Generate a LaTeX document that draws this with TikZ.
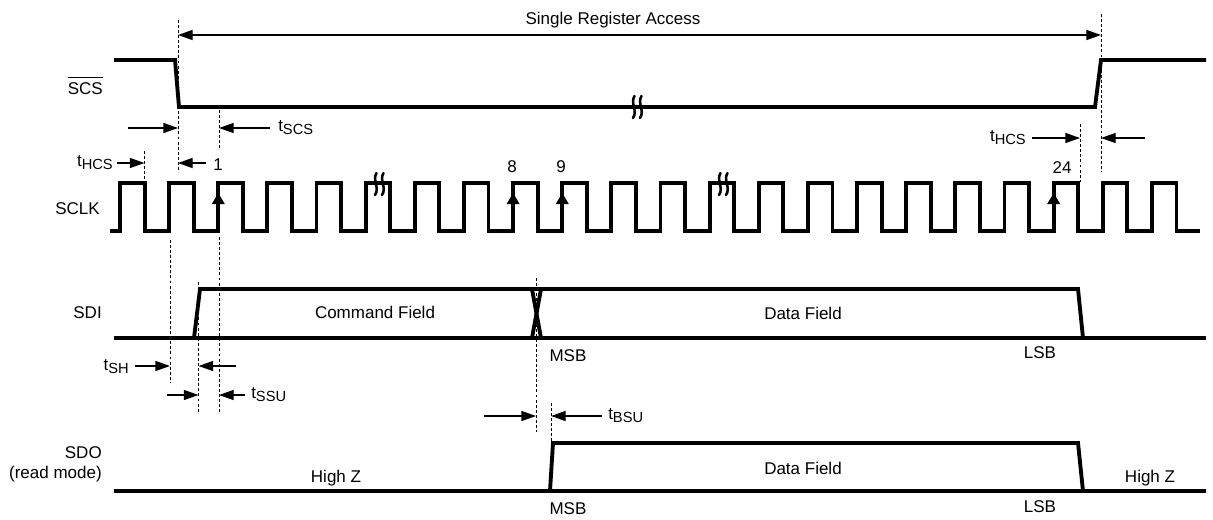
\documentclass[tikz,border=0pt]{standalone}
\usepackage{fontspec}
\setmainfont{Liberation Sans}
\usetikzlibrary{arrows.meta}
\newcommand\tsub[1]{t\raisebox{-2.2pt}{\fontsize{11}{12}\selectfont #1}}
\begin{document}
\begin{tikzpicture}[x=0.75pt,y=-0.75pt,
  wave/.style={line width=2.9pt, line join=miter, line cap=butt},
  dim/.style={line width=1pt, -{Triangle[length=11pt,width=7.5pt]}},
  dimboth/.style={line width=1pt, {Triangle[length=11pt,width=7.5pt]}-{Triangle[length=11pt,width=7.5pt]}},
  guide/.style={line width=0.7pt, dash pattern=on 2.2pt off 1.6pt},
  lbl/.style={font=\fontsize{12.75}{15}\selectfont, inner sep=0pt, text height=9.2pt, text depth=0pt},
  tlbl/.style={font=\fontsize{12.75}{15}\selectfont, inner sep=0pt},
  tick/.style={line width=1.9pt, line cap=round},
  brk/.pic={\draw[tick] (-1.5,-11) .. controls (-6,-4) and (2,4) .. (-3,11);
            \draw[tick] (5.5,-11) .. controls (1,-4) and (9,4) .. (4,11);}]
\useasboundingbox (0,0) rectangle (1213,519);

% ---------- signal names ----------
\node[lbl,anchor=east] (nscs) at (103,88) {SCS};
\draw[line width=0.8pt] ([yshift=3pt]nscs.north west) -- ([yshift=3pt]nscs.north east);
\node[lbl,anchor=east] (nsclk) at (100,208) {SCLK};
\node[lbl,anchor=east] (nsdi) at (102,312) {SDI};
\node[lbl,anchor=east] (nsdo) at (102,452) {SDO};
\node[lbl,anchor=east] (nrm) at (102,472) {(read mode)};

% ---------- SCS waveform ----------
\draw[wave] (114,60) -- (175,60) -- (179,107) -- (1095,107) -- (1101,60) -- (1206,60);
\pic at (636,107) {brk};

% ---------- SCLK waveform ----------
\draw[wave] (110,231) foreach \k in {0,...,21} {
   -- ({120+49.14*\k},231) -- ({120+49.14*\k},183)
   -- ({144.57+49.14*\k},183) -- ({144.57+49.14*\k},231) } -- (1200,231);
\foreach \k in {2,8,9,19}
  \fill ({120+49.14*\k},193) -- ++(-6.5,11) -- ++(13,0) -- cycle;
\pic at (378,184) {brk};
\pic at (722,184) {brk};
\node[lbl] (c1) at (218,164) {1};
\node[lbl] (c8) at (512,166) {8};
\node[lbl] (c9) at (561,166) {9};
\node[lbl] (c24) at (1062,167) {24};

% ---------- SDI waveform ----------
\draw[wave] (114,338) -- (1206,338);
\draw[wave] (194,338) -- (200,289) -- (1078,289) -- (1083,338);
\draw[wave] (532,289) -- (541,338);
\draw[wave] (541,289) -- (532,338);
\node[lbl] (cmd) at (375,312) {Command Field};
\node[lbl] (dat1) at (803,313) {Data Field};
\node[lbl] (msb1) at (568,355) {MSB};
\node[lbl] (lsb1) at (1040,352) {LSB};

% ---------- SDO waveform ----------
\draw[wave] (114,491) -- (1206,491);
\draw[wave] (550,491) -- (553,443) -- (1078,443) -- (1083,491);
\node[lbl] (hz1) at (336,476) {High Z};
\node[lbl] (dat2) at (803,468) {Data Field};
\node[lbl] (hz2) at (1150,476) {High Z};
\node[lbl] (msb2) at (568,508) {MSB};
\node[lbl] (lsb2) at (1040,506) {LSB};

% ---------- guide lines ----------
\draw[guide] (178,20) -- (178,172);
\draw[guide] (1101,14) -- (1101,172);
\draw[guide] (219,110) -- (219,148);
\draw[guide] (219,237) -- (219,413);
\draw[guide] (144.5,151) -- (144.5,182);
\draw[guide] (170,240) -- (170,382);
\draw[guide] (198.5,282) -- (198.5,413);
\draw[guide] (536,278) -- (536,432);
\draw[guide] (551,403) -- (551,443);
\draw[guide] (1080,124) -- (1080,182);

% ---------- Single Register Access ----------
\coordinate (sraL) at (178,35);
\coordinate (sraR) at (1101,35);
\draw[dimboth] (sraL) -- (sraR);
\node[lbl] (sra) at (613,18) {Single Register Access};

% ---------- tSCS ----------
\coordinate (a1s) at (128,128); \coordinate (a1e) at (178,128);
\coordinate (a2s) at (270,128); \coordinate (a2e) at (219,128);
\draw[dim] (a1s) -- (a1e);
\draw[dim] (a2s) -- (a2e);
\node[tlbl,anchor=west] (tscs) at (278,128) {\tsub{SCS}};

% ---------- tHCS left ----------
\node[tlbl,anchor=east] (thcs1) at (113,163) {\tsub{HCS}};
\coordinate (b1s) at (117,163); \coordinate (b1e) at (144.5,163);
\coordinate (b2s) at (206,163); \coordinate (b2e) at (178,163);
\draw[dim] (b1s) -- (b1e);
\draw[dim] (b2s) -- (b2e);

% ---------- tHCS right ----------
\node[tlbl,anchor=east] (thcs2) at (1026,138) {\tsub{HCS}};
\coordinate (c1s) at (1032,138); \coordinate (c1e) at (1080,138);
\coordinate (c2s) at (1145,138); \coordinate (c2e) at (1101,138);
\draw[dim] (c1s) -- (c1e);
\draw[dim] (c2s) -- (c2e);

% ---------- tSH ----------
\node[tlbl,anchor=east] (tsh) at (129,367) {\tsub{SH}};
\coordinate (d1s) at (135,366); \coordinate (d1e) at (170,366);
\coordinate (d2s) at (236,366); \coordinate (d2e) at (198.5,366);
\draw[dim] (d1s) -- (d1e);
\draw[dim] (d2s) -- (d2e);

% ---------- tSSU ----------
\coordinate (e1s) at (167,395); \coordinate (e1e) at (198.5,395);
\coordinate (e2s) at (245,395); \coordinate (e2e) at (219,395);
\draw[dim] (e1s) -- (e1e);
\draw[dim] (e2s) -- (e2e);
\node[tlbl,anchor=west] (tssu) at (251,395) {\tsub{SSU}};

% ---------- tBSU ----------
\coordinate (f1s) at (484,416); \coordinate (f1e) at (536,416);
\coordinate (f2s) at (602,416); \coordinate (f2e) at (551,416);
\draw[dim] (f1s) -- (f1e);
\draw[dim] (f2s) -- (f2e);
\node[tlbl,anchor=west] (tbsu) at (608,416) {\tsub{BSU}};
\end{tikzpicture}
\end{document}
